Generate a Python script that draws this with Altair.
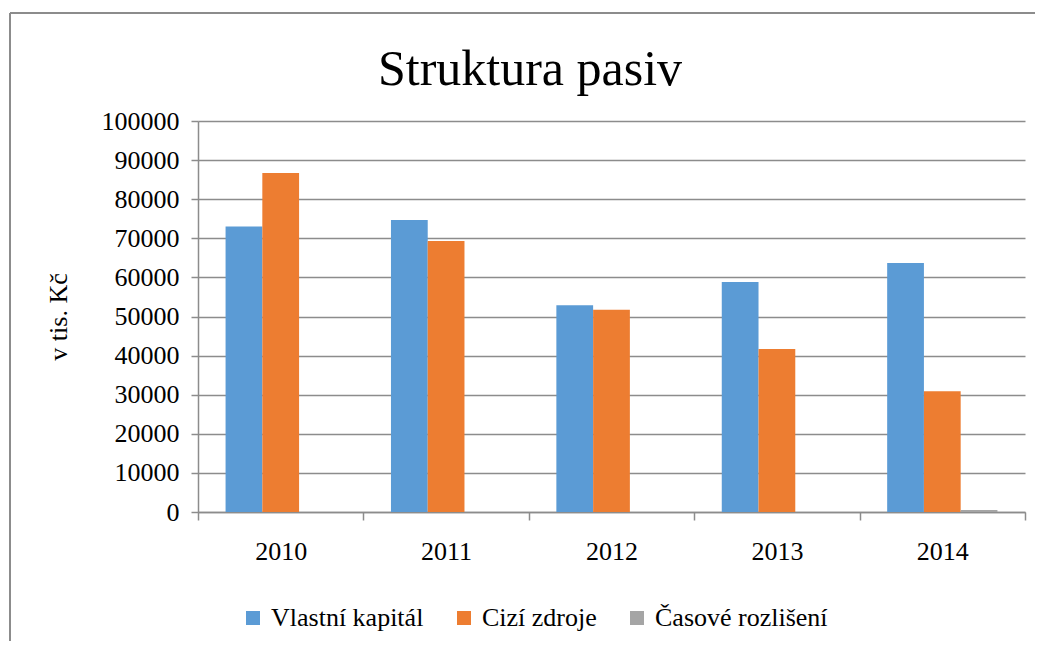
import altair as alt
import pandas as pd

years = ["2010", "2011", "2012", "2013", "2014"]
series = ["Vlastní kapitál", "Cizí zdroje", "Časové rozlišení"]
vlastni = [73000, 74700, 52900, 58800, 63700]
cizi = [86700, 69300, 51700, 41700, 30900]
casove = [0, 0, 0, 0, 500]
colors = ["#5B9BD5", "#ED7D31", "#A5A5A5"]
title_text = "Struktura pasiv"

rows = []
for i, y in enumerate(years):
    for s, vals in zip(series, [vlastni, cizi, casove]):
        rows.append({"rok": y, "serie": s, "hodnota": vals[i]})
df = pd.DataFrame(rows)

FONT = "Liberation Serif"

bars = alt.Chart(df).mark_bar().encode(
    x=alt.X("rok:N", sort=years,
            scale=alt.Scale(paddingInner=0, paddingOuter=0),
            axis=alt.Axis(title=None, labelAngle=0, tickBand="extent",
                          labelFontSize=26, labelFont=FONT, labelColor="#000",
                          tickSize=8, labelPadding=18, domainColor="#8c8c8c",
                          tickColor="#8c8c8c", domainWidth=1.5, tickWidth=1.5,
                          grid=False)),
    xOffset=alt.XOffset("serie:N", sort=series,
                        scale=alt.Scale(paddingInner=0, paddingOuter=0.75)),
    y=alt.Y("hodnota:Q",
            scale=alt.Scale(domain=[0, 100000], nice=False),
            axis=alt.Axis(title="v tis. Kč", values=list(range(0, 100001, 10000)),
                          format="d", labelFontSize=26, labelFont=FONT,
                          labelColor="#000", titleFont=FONT, titleFontSize=26,
                          titleFontWeight="normal", titleColor="#000",
                          titlePadding=30, tickSize=7, labelPadding=12,
                          domainColor="#8c8c8c", tickColor="#8c8c8c",
                          domainWidth=1.5, tickWidth=1.5,
                          gridColor="#8c8c8c", gridWidth=1.5)),
    color=alt.Color("serie:N", sort=series,
                    scale=alt.Scale(domain=series, range=colors),
                    legend=alt.Legend(title=None, orient="none", direction="horizontal",
                                      legendX=42, legendY=484,
                                      symbolType="square", symbolSize=196,
                                      symbolStrokeWidth=0, labelFont=FONT,
                                      labelFontSize=26, labelColor="#000",
                                      labelLimit=0,
                                      columnPadding=27, labelOffset=5)),
)

frame_data = alt.Data(values=[{"t": title_text}])
top_line = alt.Chart(frame_data).mark_rule(color="#8c8c8c", strokeWidth=2).encode(
    x=alt.value(-188), x2=alt.value(840), y=alt.value(-108))
left_line = alt.Chart(frame_data).mark_rule(color="#8c8c8c", strokeWidth=2).encode(
    x=alt.value(-188), y=alt.value(-108), y2=alt.value(520))
title = alt.Chart(frame_data).mark_text(
    font=FONT, fontSize=50, color="#000", align="center", baseline="alphabetic"
).encode(text="t:N", x=alt.value(332), y=alt.value(-36))

chart = alt.layer(bars, top_line, left_line, title).properties(
    width=827, height=391,
    autosize=alt.AutoSizeParams(type="none"),
    padding={"left": 190, "top": 113, "right": 10, "bottom": 130},
).configure(background="white", font=FONT).configure_view(stroke=None)

chart.save("out.html", embed_options={"renderer": "svg", "actions": False})
